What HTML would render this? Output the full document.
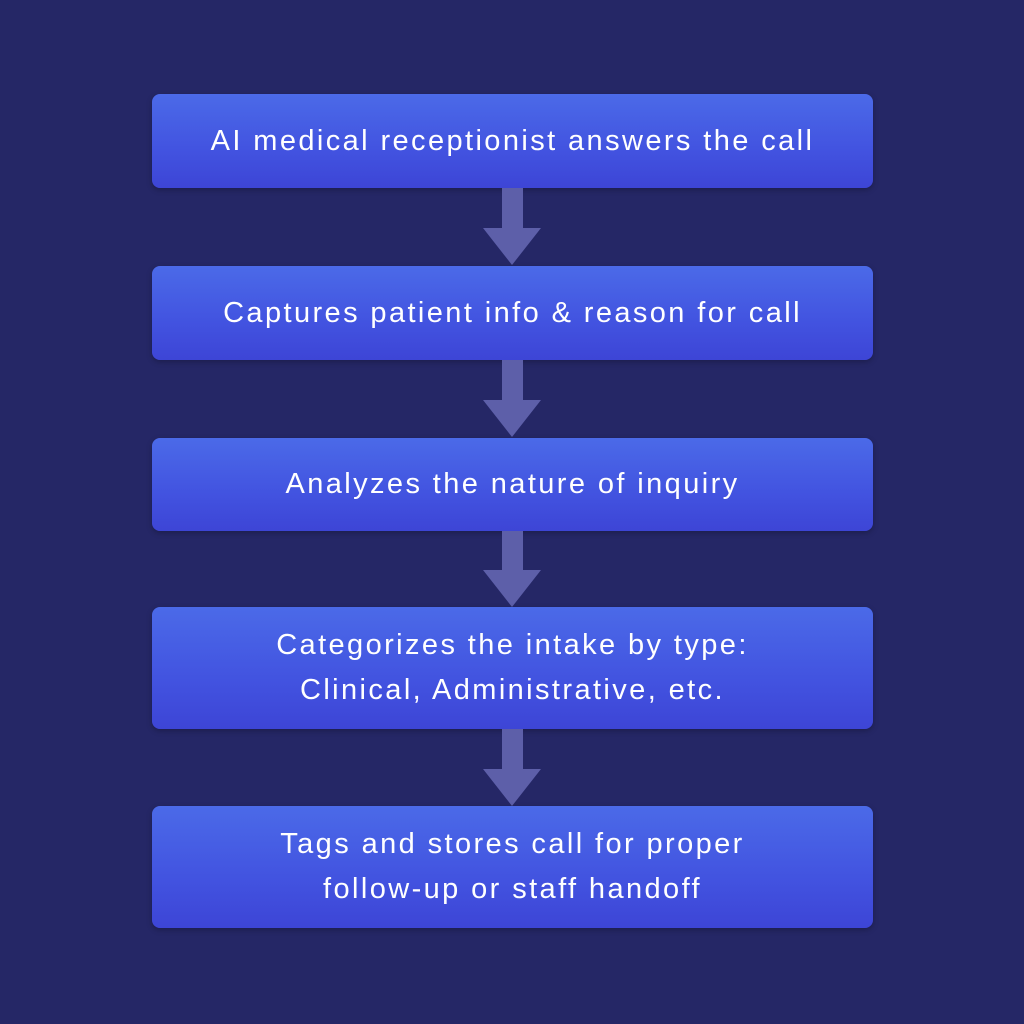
<!DOCTYPE html>
<html><head><style>
html,body{margin:0;padding:0;}
body{width:1024px;height:1024px;background:#252766;position:relative;overflow:hidden;font-family:"Liberation Sans",sans-serif;}
.b{position:absolute;left:152px;width:721px;border-radius:8px;background:linear-gradient(180deg,#4b6ae8 0%,#4253e0 60%,#3d45d6 100%);color:#fff;display:flex;align-items:center;justify-content:center;text-align:center;font-size:29px;letter-spacing:2.4px;line-height:45px;box-shadow:0 2px 6px rgba(0,0,0,.25);}
.a{position:absolute;left:483px;width:58px;}
.a .s{position:absolute;left:19px;width:21px;top:0;background:#5d5fa9;}
.a .h{position:absolute;left:0;width:0;height:0;border-left:29px solid transparent;border-right:29px solid transparent;border-top:37px solid #5d5fa9;}
</style></head><body>
<div class="b" style="top:94px;height:94px">AI medical receptionist answers the call</div>
<div class="a" style="top:188px"><div class="s" style="height:41px"></div><div class="h" style="top:40px"></div></div>
<div class="b" style="top:266px;height:94px">Captures patient info &amp; reason for call</div>
<div class="a" style="top:360px"><div class="s" style="height:41px"></div><div class="h" style="top:40px"></div></div>
<div class="b" style="top:438px;height:93px">Analyzes the nature of inquiry</div>
<div class="a" style="top:531px"><div class="s" style="height:40px"></div><div class="h" style="top:39px"></div></div>
<div class="b" style="top:607px;height:122px">Categorizes the intake by type:<br>Clinical, Administrative, etc.</div>
<div class="a" style="top:729px"><div class="s" style="height:41px"></div><div class="h" style="top:40px"></div></div>
<div class="b" style="top:806px;height:122px">Tags and stores call for proper<br>follow-up or staff handoff</div>
</body></html>
